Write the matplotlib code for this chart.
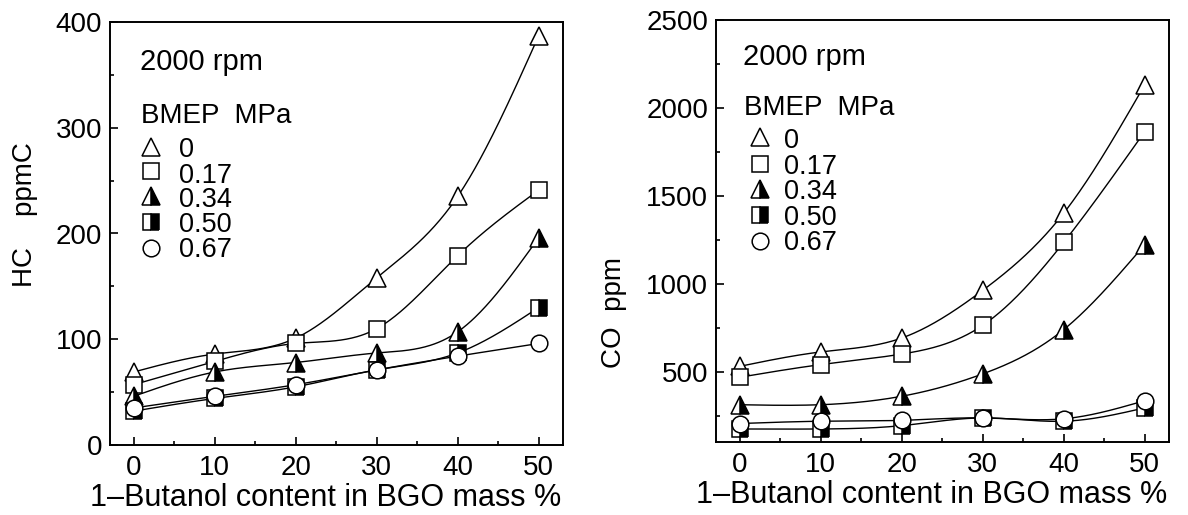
import numpy as np
import matplotlib
matplotlib.use('Agg')
import matplotlib.pyplot as plt
from matplotlib.ticker import MultipleLocator

plt.rcParams['font.family'] = ['Liberation Sans', 'DejaVu Sans']

# ---------------- data ----------------
butanol = [0, 10, 20, 30, 40, 50]
bmep_labels = ['0', '0.17', '0.34', '0.50', '0.67']

hc_000 = [69, 86, 101, 158, 235, 387]
hc_017 = [57, 79, 96, 110, 179, 241]
hc_034 = [46, 69, 78, 87, 107, 196]
hc_050 = [32, 44, 55, 71, 87, 130]
hc_067 = [35, 46, 57, 71, 84, 96]

co_000 = [530, 612, 691, 962, 1401, 2131]
co_017 = [468, 540, 600, 763, 1235, 1865]
co_034 = [312, 312, 360, 487, 739, 1222]
co_050 = [174, 174, 193, 237, 218, 294]
co_067 = [205, 218, 223, 237, 232, 335]

hc_series = [hc_000, hc_017, hc_034, hc_050, hc_067]
co_series = [co_000, co_017, co_034, co_050, co_067]

# ---------------- styles ----------------
marker_styles = [
    dict(marker='^', markersize=13, markerfacecolor='white'),
    dict(marker='s', markersize=12, markerfacecolor='white'),
    dict(marker='^', markersize=13, fillstyle='right', markerfacecolor='black',
         markerfacecoloralt='white'),
    dict(marker='s', markersize=12, fillstyle='right', markerfacecolor='black',
         markerfacecoloralt='white'),
    dict(marker='o', markersize=12, markerfacecolor='white'),
]


def smooth(x, y, n=300):
    """Natural cubic spline through the data points (for drawing the curve)."""
    x = np.asarray(x, float)
    y = np.asarray(y, float)
    k = len(x)
    h = np.diff(x)
    A = np.zeros((k, k))
    b = np.zeros(k)
    A[0, 0] = A[-1, -1] = 1
    for i in range(1, k - 1):
        A[i, i - 1] = h[i - 1]
        A[i, i] = 2 * (h[i - 1] + h[i])
        A[i, i + 1] = h[i]
        b[i] = 6 * ((y[i + 1] - y[i]) / h[i] - (y[i] - y[i - 1]) / h[i - 1])
    M = np.linalg.solve(A, b)
    xs = np.linspace(x[0], x[-1], n)
    idx = np.clip(np.searchsorted(x, xs) - 1, 0, k - 2)
    x0, x1 = x[idx], x[idx + 1]
    hh = x1 - x0
    ys = (M[idx] * (x1 - xs) ** 3 / (6 * hh) + M[idx + 1] * (xs - x0) ** 3 / (6 * hh)
          + (y[idx] / hh - M[idx] * hh / 6) * (x1 - xs)
          + (y[idx + 1] / hh - M[idx + 1] * hh / 6) * (xs - x0))
    return xs, ys


fig = plt.figure(figsize=(11.88, 5.15), dpi=100)
ax1 = fig.add_axes([110 / 1188, 70 / 515, 453 / 1188, 423 / 515])
ax2 = fig.add_axes([716 / 1188, 73 / 515, 453 / 1188, 422 / 515])

TICK_FS = 20


def draw_panel(ax, series, ylim, ymajor, yminor, ylabel, ylabel_pos, leg):
    for vals in series:
        xs, ys = smooth(butanol, vals)
        ax.plot(xs, ys, color='black', lw=1.0, zorder=2)
    for i, (vals, st) in enumerate(zip(series, marker_styles)):
        ax.plot(butanol, vals, linestyle='none', markeredgecolor='black',
                markeredgewidth=1.1, zorder=3 + i, clip_on=False, **st)

    ax.set_xlim(-2.9, 53)
    ax.set_ylim(*ylim)
    ax.xaxis.set_major_locator(MultipleLocator(10))
    ax.xaxis.set_minor_locator(MultipleLocator(5))
    ax.yaxis.set_major_locator(MultipleLocator(ymajor))
    ax.yaxis.set_minor_locator(MultipleLocator(yminor))
    ax.tick_params(which='both', direction='in', top=False, right=False,
                   width=1.2, labelsize=TICK_FS)
    ax.tick_params(which='major', length=6)
    ax.tick_params(which='minor', length=3)
    ax.tick_params(axis='y', pad=5.5)
    ax.tick_params(axis='x', pad=7.5)
    for sp in ax.spines.values():
        sp.set_linewidth(1.4)

    ax.set_xlabel('1\u2013Butanol content in BGO mass %', fontsize=22)
    ax.xaxis.set_label_coords(0.475, -0.09)
    ax.set_ylabel(ylabel, fontsize=20)
    ax.yaxis.set_label_coords(*ylabel_pos)

    # in-plot legend block
    (rx, ry), (bx, by), mx, tx, my, ty = leg
    ax.text(rx, ry, '2000 rpm', transform=ax.transAxes, fontsize=21,
            ha='left', va='baseline')
    ax.text(bx, by, 'BMEP  MPa', transform=ax.transAxes, fontsize=20,
            ha='left', va='baseline')
    for i, st in enumerate(marker_styles):
        ax.plot([mx], [my[i]], transform=ax.transAxes, linestyle='none',
                markeredgecolor='black', markeredgewidth=1.1, clip_on=False, **st)
        ax.text(tx, ty[i], bmep_labels[i], transform=ax.transAxes, fontsize=19.5,
                ha='left', va='baseline')


draw_panel(ax1, hc_series, (0, 400), 100, 50, 'HC    ppmC', (-0.158, 0.545),
           ((0.066, 0.8865), (0.068, 0.761), 0.0905, 0.152,
            [0.7045, 0.648, 0.589, 0.527, 0.466],
            [0.681, 0.619, 0.563, 0.5035, 0.444]))

draw_panel(ax2, co_series, (100, 2500), 500, 250, 'CO  ppm', (-0.196, 0.308),
           ((0.0596, 0.893), (0.062, 0.775), 0.097, 0.150,
            [0.7227, 0.659, 0.5995, 0.538, 0.476],
            [0.697, 0.635, 0.576, 0.514, 0.455]))

fig.savefig('out.png', dpi=100)
